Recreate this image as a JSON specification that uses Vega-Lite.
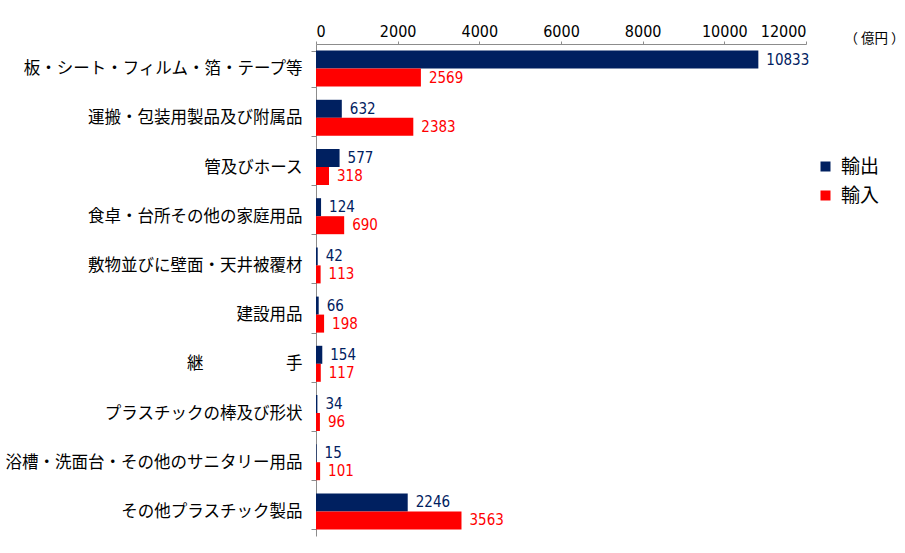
{
  "$schema": "https://vega.github.io/schema/vega-lite/v6.json",
  "width": 490,
  "height": 492,
  "autosize": {"type": "none"},
  "padding": {"left": 316, "top": 44, "right": 99, "bottom": 17},
  "background": "white",
  "config": {"view": {"stroke": null}, "font": "Noto Sans CJK JP"},
  "data": {"values": [
    {"cat": "板・シート・フィルム・箔・テープ等", "type": "輸出", "value": 10833},
    {"cat": "板・シート・フィルム・箔・テープ等", "type": "輸入", "value": 2569},
    {"cat": "運搬・包装用製品及び附属品", "type": "輸出", "value": 632},
    {"cat": "運搬・包装用製品及び附属品", "type": "輸入", "value": 2383},
    {"cat": "管及びホース", "type": "輸出", "value": 577},
    {"cat": "管及びホース", "type": "輸入", "value": 318},
    {"cat": "食卓・台所その他の家庭用品", "type": "輸出", "value": 124},
    {"cat": "食卓・台所その他の家庭用品", "type": "輸入", "value": 690},
    {"cat": "敷物並びに壁面・天井被覆材", "type": "輸出", "value": 42},
    {"cat": "敷物並びに壁面・天井被覆材", "type": "輸入", "value": 113},
    {"cat": "建設用品", "type": "輸出", "value": 66},
    {"cat": "建設用品", "type": "輸入", "value": 198},
    {"cat": "継　　　　　手", "type": "輸出", "value": 154},
    {"cat": "継　　　　　手", "type": "輸入", "value": 117},
    {"cat": "プラスチックの棒及び形状", "type": "輸出", "value": 34},
    {"cat": "プラスチックの棒及び形状", "type": "輸入", "value": 96},
    {"cat": "浴槽・洗面台・その他のサニタリー用品", "type": "輸出", "value": 15},
    {"cat": "浴槽・洗面台・その他のサニタリー用品", "type": "輸入", "value": 101},
    {"cat": "その他プラスチック製品", "type": "輸出", "value": 2246},
    {"cat": "その他プラスチック製品", "type": "輸入", "value": 3563}
  ]},
  "encoding": {
    "y": {
      "field": "cat", "type": "nominal", "sort": null,
      "scale": {"paddingInner": 0.268, "paddingOuter": 0.134},
      "axis": {
        "title": null, "labelFontSize": 16.5, "labelColor": "#000000",
        "labelFont": "Noto Sans CJK JP", "labelPadding": 9, "tickSize": 5,
        "tickBand": "extent", "domainColor": "#8c8c8c", "tickColor": "#8c8c8c",
        "labelLimit": 320
      }
    },
    "yOffset": {"field": "type", "type": "nominal", "sort": ["輸出", "輸入"]},
    "x": {
      "field": "value", "type": "quantitative",
      "scale": {"domain": [0, 12000], "nice": false},
      "axis": {
        "orient": "top", "values": [0, 2000, 4000, 6000, 8000, 10000, 12000],
        "grid": false, "labelFontSize": 16, "labelColor": "#000000",
        "labelFont": "Liberation Sans Narrow, DejaVu Sans Condensed, Roboto Condensed, Roboto, sans-serif", "labelPadding": 2, "tickSize": 3,
        "domainColor": "#8c8c8c", "tickColor": "#8c8c8c", "format": "d",
        "title": "（ 億円 ）", "titleFontSize": 13.5, "titleFontWeight": "normal",
        "titleFont": "Noto Sans CJK JP", "titleColor": "#000000",
        "titleX": 528, "titleY": -6, "titleAlign": "left", "titleBaseline": "middle", "titleAngle": 0
      }
    },
    "color": {
      "field": "type", "type": "nominal",
      "scale": {"domain": ["輸出", "輸入"], "range": ["#002060", "#ff0000"]},
      "legend": {
        "title": null, "orient": "none", "legendX": 500, "legendY": 113,
        "symbolType": "square", "symbolSize": 100, "labelFontSize": 19,
        "labelFont": "Noto Sans CJK JP", "labelColor": "#000000", "rowPadding": 9,
        "labelOffset": 6, "symbolStrokeWidth": 0
      }
    }
  },
  "layer": [
    {"mark": {"type": "bar"}},
    {"mark": {"type": "text", "align": "left", "baseline": "middle", "dx": 8, "fontSize": 15, "font": "Liberation Sans Narrow, DejaVu Sans Condensed, Roboto Condensed, Roboto, sans-serif"},
     "encoding": {"text": {"field": "value", "type": "quantitative", "format": "d"}}}
  ]
}
